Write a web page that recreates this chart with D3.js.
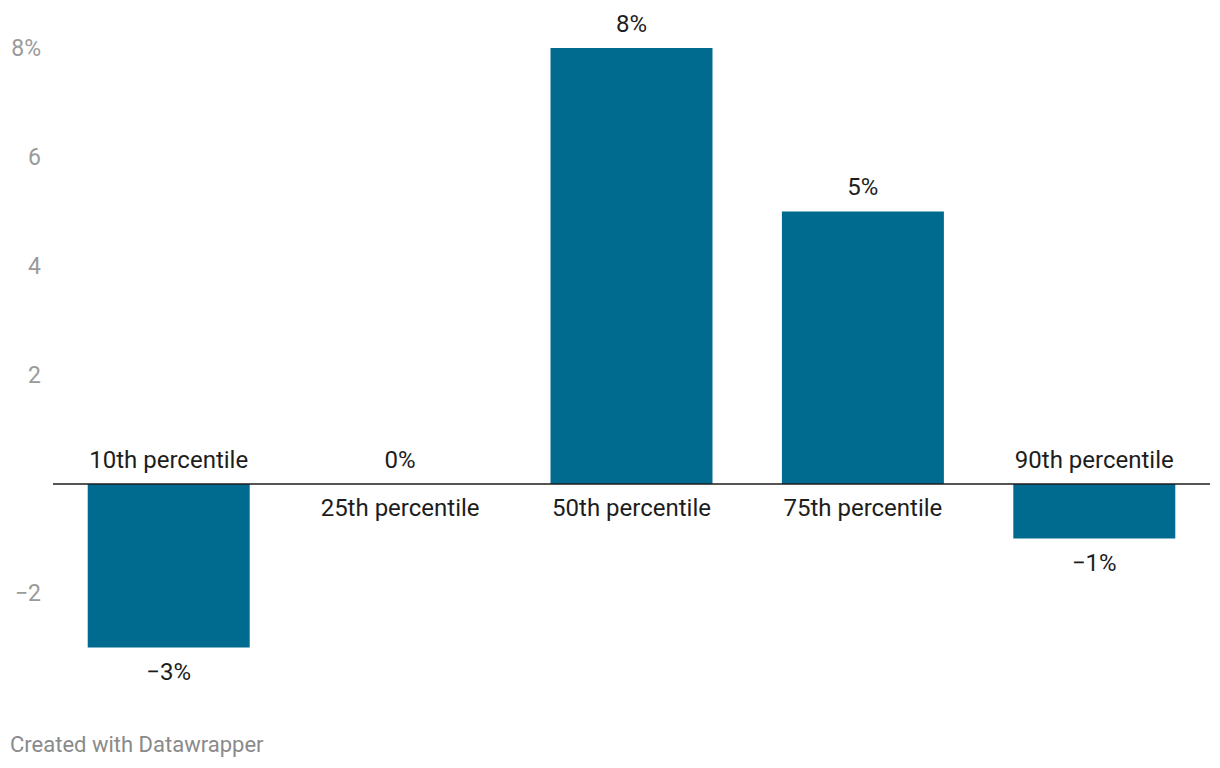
<!DOCTYPE html>
<html>
<head>
<meta charset="utf-8">
<script src="https://cdn.jsdelivr.net/npm/d3@7"></script>
<style>
	body { margin: 0; background: #fff; font-family: Roboto, "Noto Sans", sans-serif; }
	svg { display: block; }
</style>
</head>
<body>
<svg id="chart" width="1220" height="768"></svg>
<script>
var categories = ["10th percentile", "25th percentile", "50th percentile", "75th percentile", "90th percentile"];
var values = [-3, 0, 8, 5, -1];
var yTicks = [-2, 2, 4, 6, 8];

var width = 1220,
	height = 768;

var svg = d3.select("#chart");

var x = d3.scaleBand()
	.domain(categories)
	.range([53, 1210])
	.paddingInner(0.3)
	.paddingOuter(0.15);

var y = d3.scaleLinear()
	.domain([-3, 8])
	.range([647.5, 48]);

function fmt(v) {
	return (v < 0 ? "\u2212" : "") + Math.abs(v);
}

// y axis labels, no grid lines
var yAxis = d3.axisLeft(y)
	.tickValues(yTicks)
	.tickSize(0)
	.tickPadding(0)
	.tickFormat(function (d) { return fmt(d) + (d === 8 ? "%" : ""); });

var yG = svg.append("g")
	.attr("transform", "translate(41,0)")
	.call(yAxis);
yG.select(".domain").remove();
yG.selectAll("text")
	.attr("fill", "#9a9a9a")
	.style("font-family", "Roboto, sans-serif")
	.style("font-size", "23px");

// bars
svg.append("g").selectAll("rect")
	.data(values)
	.join("rect")
	.attr("x", function (d, i) { return x(categories[i]); })
	.attr("width", x.bandwidth())
	.attr("y", function (d) { return y(Math.max(0, d)); })
	.attr("height", function (d) { return Math.abs(y(d) - y(0)); })
	.attr("fill", "#006a8f");

// zero baseline
svg.append("line")
	.attr("x1", 53)
	.attr("x2", 1210)
	.attr("y1", y(0))
	.attr("y2", y(0))
	.attr("stroke", "#1d1d1d")
	.attr("stroke-width", 1.5);

var labels = svg.append("g")
	.style("font-family", "Roboto, sans-serif")
	.style("font-size", "24px")
	.attr("fill", "#1d1d1d")
	.attr("text-anchor", "middle");

// value labels
labels.selectAll(".val")
	.data(values)
	.join("text")
	.attr("class", "val")
	.attr("x", function (d, i) { return x(categories[i]) + x.bandwidth() / 2; })
	.attr("y", function (d) { return d < 0 ? y(d) + 32.5 : y(d) - 16.5; })
	.text(function (d) { return fmt(d) + "%"; });

// category labels, on the opposite side of the bar
labels.selectAll(".cat")
	.data(values)
	.join("text")
	.attr("class", "cat")
	.attr("x", function (d, i) { return x(categories[i]) + x.bandwidth() / 2; })
	.attr("y", function (d) { return d < 0 ? y(0) - 16.5 : y(0) + 31.5; })
	.text(function (d, i) { return categories[i]; });

svg.append("text")
	.attr("x", 10)
	.attr("y", 752)
	.attr("fill", "#8a8a8a")
	.style("font-family", "Roboto, sans-serif")
	.style("font-size", "22px")
	.text("Created with Datawrapper");
</script>
</body>
</html>
